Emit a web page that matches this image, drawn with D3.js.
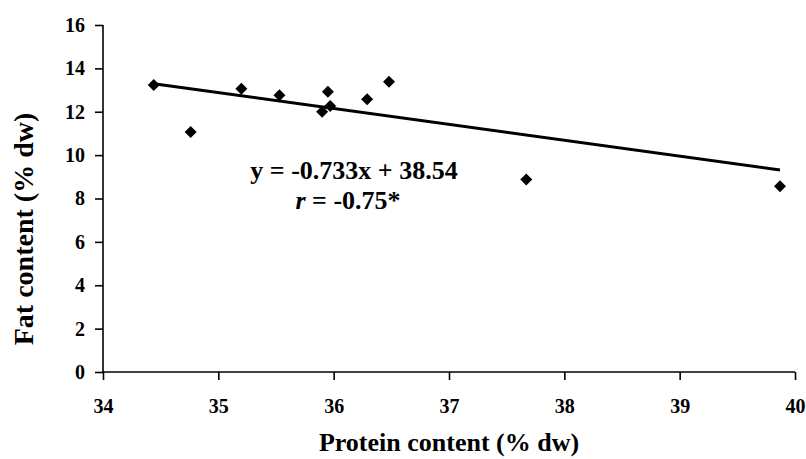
<!DOCTYPE html>
<html>
<head>
<meta charset="utf-8">
<script src="https://cdn.jsdelivr.net/npm/d3@7"></script>
<style>
  body { margin: 0; background: #fff; }
  text { font-family: "Liberation Serif", "Times New Roman", serif; font-weight: bold; fill: #000; }
</style>
</head>
<body>
<div id="chart"></div>
<script>
// protein (% dw) vs fat (% dw)
const protein = [34.44, 34.76, 35.20, 35.53, 35.90, 35.95, 35.97, 36.29, 36.48, 37.67, 39.87];
const fat     = [13.23, 11.07, 13.06, 12.76, 12.00, 12.92, 12.27, 12.58, 13.38, 8.88, 8.57];
const xTicks = [34, 35, 36, 37, 38, 39, 40];
const yTicks = [0, 2, 4, 6, 8, 10, 12, 14, 16];
const slope = -0.733, intercept = 38.54;
const eqLabel = "y = -0.733x + 38.54";

const width = 806, height = 459;
const margin = { top: 25, right: 11, bottom: 87, left: 103 };

const svg = d3.select("#chart").append("svg")
    .attr("width", width)
    .attr("height", height);

const x = d3.scaleLinear().domain([34, 40]).range([margin.left, width - margin.right]);
const y = d3.scaleLinear().domain([0, 16]).range([height - margin.bottom, margin.top]);

const xAxis = svg.append("g")
    .attr("transform", `translate(0,${y(0)})`)
    .call(d3.axisBottom(x).tickValues(xTicks).tickSize(8).tickPadding(19).tickFormat(d3.format("d")));
const yAxis = svg.append("g")
    .attr("transform", `translate(${x(34)},0)`)
    .call(d3.axisLeft(y).tickValues(yTicks).tickSize(8).tickPadding(10).tickFormat(d3.format("d")));

[xAxis, yAxis].forEach(g => {
    g.select(".domain").attr("stroke", "#000").attr("stroke-width", 1.6);
    g.selectAll(".tick line").attr("stroke", "#000").attr("stroke-width", 1.6);
    g.selectAll(".tick text").attr("font-size", 20).attr("font-family", "Liberation Serif").attr("font-weight", "bold");
});
// no outer tick stubs on the domain path
xAxis.select(".domain").attr("d", `M${x(34)},0H${x(40)}`);
yAxis.select(".domain").attr("d", `M0,${y(0)}V${y(16)}`);

// trendline over the data range
const xMin = d3.min(protein), xMax = d3.max(protein);
svg.append("line")
    .attr("x1", x(xMin)).attr("y1", y(slope * xMin + intercept))
    .attr("x2", x(xMax)).attr("y2", y(slope * xMax + intercept))
    .attr("stroke", "#000")
    .attr("stroke-width", 3);

const pts = protein.map((p, i) => ({ p, f: fat[i] }));
svg.append("g").selectAll("path")
    .data(pts)
    .enter().append("path")
    .attr("d", d3.symbol(d3.symbolSquare, 72))
    .attr("transform", d => `translate(${x(d.p)},${y(d.f)}) rotate(45)`)
    .attr("fill", "#000");

// equation
svg.append("text")
    .attr("x", 354).attr("y", 179)
    .attr("text-anchor", "middle")
    .attr("font-size", 26)
    .text(eqLabel);
const rt = svg.append("text")
    .attr("x", 348).attr("y", 209)
    .attr("text-anchor", "middle")
    .attr("font-size", 26);
rt.append("tspan").attr("font-style", "italic").text("r");
rt.append("tspan").text(" = -0.75*");

// axis titles
svg.append("text")
    .attr("x", (x(34) + x(40)) / 2).attr("y", 451)
    .attr("text-anchor", "middle")
    .attr("font-size", 26)
    .text("Protein content (% dw)");
svg.append("text")
    .attr("transform", `translate(33,229) rotate(-90)`)
    .attr("text-anchor", "middle")
    .attr("font-size", 28)
    .text("Fat content (% dw)");
</script>
</body>
</html>
